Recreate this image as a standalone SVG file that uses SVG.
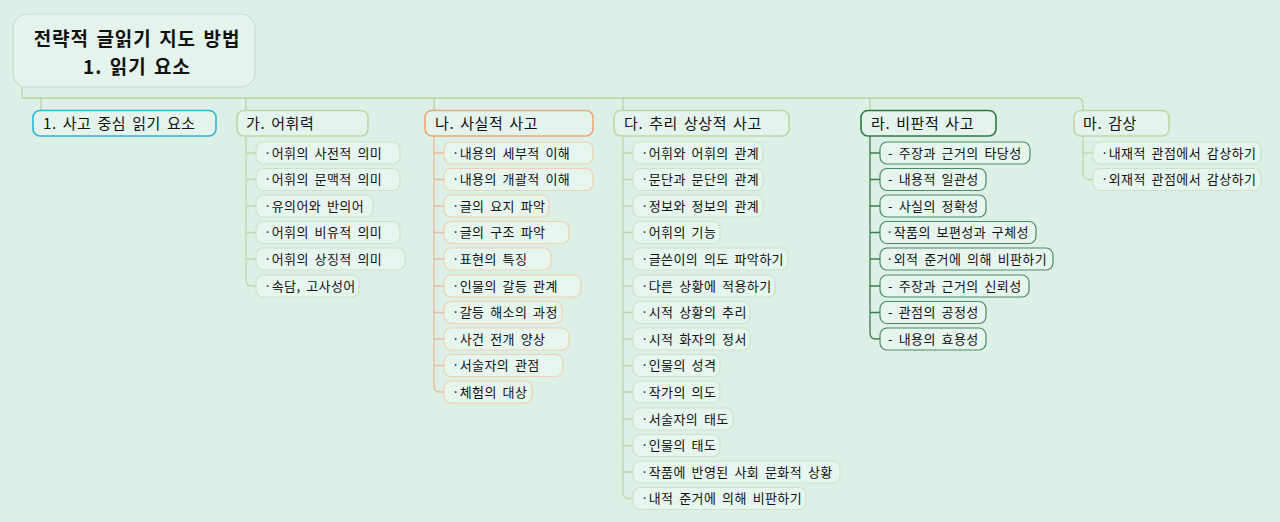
<svg xmlns="http://www.w3.org/2000/svg" width="1280" height="522" viewBox="0 0 1280 522">
<style>
text{font-family:"Noto Sans CJK KR","Noto Sans",sans-serif;fill:#111}
.t{font-size:19px;font-weight:bold;text-anchor:middle;letter-spacing:1px;word-spacing:2px}
.l1{font-size:15px;letter-spacing:0.6px;word-spacing:2px}
.c{font-size:13px;letter-spacing:0.4px;word-spacing:2.5px}
.b1{fill:#e4f4ec;stroke-width:1.6}
.cb{fill:#e6f5ed;stroke-width:1.2}
.g{stroke:#bcd8a4}
.o{stroke:#eaa874}
.bl{stroke:#2bb5d6}
.dg{stroke:#2e7a40}
.cg{stroke:#cde3c6}
.co{stroke:#f0cfb2}
.cdg{stroke:#4a8c62}
.ln{fill:none;stroke-width:1.3}
</style>
<rect width="1280" height="522" fill="#ddf0e8"/>
<g id="connectors">
<path class="ln" stroke="#b9d39e" d="M22 87V98H1077Q1083 98 1083 104V110"/>
<path class="ln" stroke="#b9d39e" d="M41 98V110M246 98V110M434 98V110M623 98V110M870 98V110"/>
<path class="ln" stroke="#c0d8ae" d="M246 136V280Q246 286 252 286H256M246 153H256M246 179.5H256M246 206H256M246 232.5H256M246 259H256"/>
<path class="ln" stroke="#e9b998" d="M434 136V386Q434 392 440 392H444M434 153H444M434 179.5H444M434 206H444M434 232.5H444M434 259H444M434 286H444M434 312.5H444M434 339H444M434 365.5H444"/>
<path class="ln" stroke="#c0d8ae" d="M623 136V492.5Q623 498.5 629 498.5H633M623 153H633M623 179.5H633M623 206H633M623 232.5H633M623 259H633M623 286H633M623 312.5H633M623 339H633M623 365.5H633M623 392H633M623 419H633M623 445.5H633M623 472H633"/>
<path class="ln" stroke="#3d7d4e" d="M870 136V333Q870 339 876 339H880M870 153H880M870 179.5H880M870 206H880M870 232.5H880M870 259H880M870 286H880M870 312.5H880"/>
<path class="ln" stroke="#c0d8ae" d="M1083 136V173.5Q1083 179.5 1089 179.5H1093M1083 153H1093"/>
</g>
<g id="root">
<rect x="13" y="14" width="242" height="73" rx="14" fill="#e4f4ec" stroke="#cbdcd4" stroke-width="1.2"/>
<text class="t" x="137" y="46">전략적 글읽기 지도 방법</text>
<text class="t" x="137" y="74">1. 읽기 요소</text>
</g>
<g id="n1">
<rect class="b1 bl" x="33" y="110.5" width="183" height="25.5" rx="7"/>
<text class="l1" x="43" y="128.5">1. 사고 중심 읽기 요소</text>
</g>
<g id="n-ga">
<rect class="b1 g" x="237" y="110.5" width="131" height="25.5" rx="7"/>
<text class="l1" x="246" y="128.5">가. 어휘력</text>
<rect class="cb cg" x="256" y="142" width="144" height="22" rx="7"/><text class="c" x="264" y="157.5">·어휘의 사전적 의미</text>
<rect class="cb cg" x="256" y="168.5" width="144" height="22" rx="7"/><text class="c" x="264" y="184">·어휘의 문맥적 의미</text>
<rect class="cb cg" x="256" y="195" width="117" height="22" rx="7"/><text class="c" x="264" y="210.5">·유의어와 반의어</text>
<rect class="cb cg" x="256" y="221.5" width="144" height="22" rx="7"/><text class="c" x="264" y="237">·어휘의 비유적 의미</text>
<rect class="cb cg" x="256" y="248" width="149" height="22" rx="7"/><text class="c" x="264" y="263.5">·어휘의 상징적 의미</text>
<rect class="cb cg" x="256" y="275" width="103" height="22" rx="7"/><text class="c" x="264" y="290.5">·속담, 고사성어</text>
</g>
<g id="n-na">
<rect class="b1 o" x="425" y="110.5" width="168" height="25.5" rx="7"/>
<text class="l1" x="435" y="128.5">나. 사실적 사고</text>
<rect class="cb co" x="444" y="142" width="149" height="22" rx="7"/><text class="c" x="452" y="157.5">·내용의 세부적 이해</text>
<rect class="cb co" x="444" y="168.5" width="149" height="22" rx="7"/><text class="c" x="452" y="184">·내용의 개괄적 이해</text>
<rect class="cb co" x="444" y="195" width="105" height="22" rx="7"/><text class="c" x="452" y="210.5">·글의 요지 파악</text>
<rect class="cb co" x="444" y="221.5" width="125" height="22" rx="7"/><text class="c" x="452" y="237">·글의 구조 파악</text>
<rect class="cb co" x="444" y="248" width="107" height="22" rx="7"/><text class="c" x="452" y="263.5">·표현의 특징</text>
<rect class="cb co" x="444" y="275" width="137" height="22" rx="7"/><text class="c" x="452" y="290.5">·인물의 갈등 관계</text>
<rect class="cb co" x="444" y="301.5" width="118" height="22" rx="7"/><text class="c" x="452" y="317">·갈등 해소의 과정</text>
<rect class="cb co" x="444" y="328" width="125" height="22" rx="7"/><text class="c" x="452" y="343.5">·사건 전개 양상</text>
<rect class="cb co" x="444" y="354.5" width="119" height="22" rx="7"/><text class="c" x="452" y="370">·서술자의 관점</text>
<rect class="cb co" x="444" y="381" width="88" height="22" rx="7"/><text class="c" x="452" y="396.5">·체험의 대상</text>
</g>
<g id="n-da">
<rect class="b1 g" x="614" y="110.5" width="175" height="25.5" rx="7"/>
<text class="l1" x="624" y="128.5">다. 추리 상상적 사고</text>
<rect class="cb cg" x="633" y="142" width="130" height="22" rx="7"/><text class="c" x="641" y="157.5">·어휘와 어휘의 관계</text>
<rect class="cb cg" x="633" y="168.5" width="130" height="22" rx="7"/><text class="c" x="641" y="184">·문단과 문단의 관계</text>
<rect class="cb cg" x="633" y="195" width="130" height="22" rx="7"/><text class="c" x="641" y="210.5">·정보와 정보의 관계</text>
<rect class="cb cg" x="633" y="221.5" width="87" height="22" rx="7"/><text class="c" x="641" y="237">·어휘의 기능</text>
<rect class="cb cg" x="633" y="248" width="155" height="22" rx="7"/><text class="c" x="641" y="263.5">·글쓴이의 의도 파악하기</text>
<rect class="cb cg" x="633" y="275" width="142" height="22" rx="7"/><text class="c" x="641" y="290.5">·다른 상황에 적용하기</text>
<rect class="cb cg" x="633" y="301.5" width="117" height="22" rx="7"/><text class="c" x="641" y="317">·시적 상황의 추리</text>
<rect class="cb cg" x="633" y="328" width="117" height="22" rx="7"/><text class="c" x="641" y="343.5">·시적 화자의 정서</text>
<rect class="cb cg" x="633" y="354.5" width="87" height="22" rx="7"/><text class="c" x="641" y="370">·인물의 성격</text>
<rect class="cb cg" x="633" y="381" width="87" height="22" rx="7"/><text class="c" x="641" y="396.5">·작가의 의도</text>
<rect class="cb cg" x="633" y="408" width="100" height="22" rx="7"/><text class="c" x="641" y="423.5">·서술자의 태도</text>
<rect class="cb cg" x="633" y="434.5" width="87" height="22" rx="7"/><text class="c" x="641" y="450">·인물의 태도</text>
<rect class="cb cg" x="633" y="461" width="207" height="22" rx="7"/><text class="c" x="641" y="476.5">·작품에 반영된 사회 문화적 상황</text>
<rect class="cb cg" x="633" y="487.5" width="173" height="22" rx="7"/><text class="c" x="641" y="503">·내적 준거에 의해 비판하기</text>
</g>
<g id="n-ra">
<rect class="b1 dg" x="861" y="110.5" width="135" height="25.5" rx="7"/>
<text class="l1" x="871" y="128.5">라. 비판적 사고</text>
<rect class="cb cdg" x="880" y="142" width="150" height="22" rx="7"/><text class="c" x="888" y="157.5">- 주장과 근거의 타당성</text>
<rect class="cb cdg" x="880" y="168.5" width="106" height="22" rx="7"/><text class="c" x="888" y="184">- 내용적 일관성</text>
<rect class="cb cdg" x="880" y="195" width="106" height="22" rx="7"/><text class="c" x="888" y="210.5">- 사실의 정확성</text>
<rect class="cb cdg" x="880" y="221.5" width="156" height="22" rx="7"/><text class="c" x="886" y="237">·작품의 보편성과 구체성</text>
<rect class="cb cdg" x="880" y="248" width="173" height="22" rx="7"/><text class="c" x="886" y="263.5">·외적 준거에 의해 비판하기</text>
<rect class="cb cdg" x="880" y="275" width="149" height="22" rx="7"/><text class="c" x="888" y="290.5">- 주장과 근거의 신뢰성</text>
<rect class="cb cdg" x="880" y="301.5" width="106" height="22" rx="7"/><text class="c" x="888" y="317">- 관점의 공정성</text>
<rect class="cb cdg" x="880" y="328" width="106" height="22" rx="7"/><text class="c" x="888" y="343.5">- 내용의 효용성</text>
</g>
<g id="n-ma">
<rect class="b1 g" x="1074" y="110.5" width="95" height="25.5" rx="7"/>
<text class="l1" x="1083" y="128.5">마. 감상</text>
<rect class="cb cg" x="1093" y="142" width="168" height="22" rx="7"/><text class="c" x="1101" y="157.5">·내재적 관점에서 감상하기</text>
<rect class="cb cg" x="1093" y="168.5" width="168" height="22" rx="7"/><text class="c" x="1101" y="184">·외재적 관점에서 감상하기</text>
</g>
</svg>
